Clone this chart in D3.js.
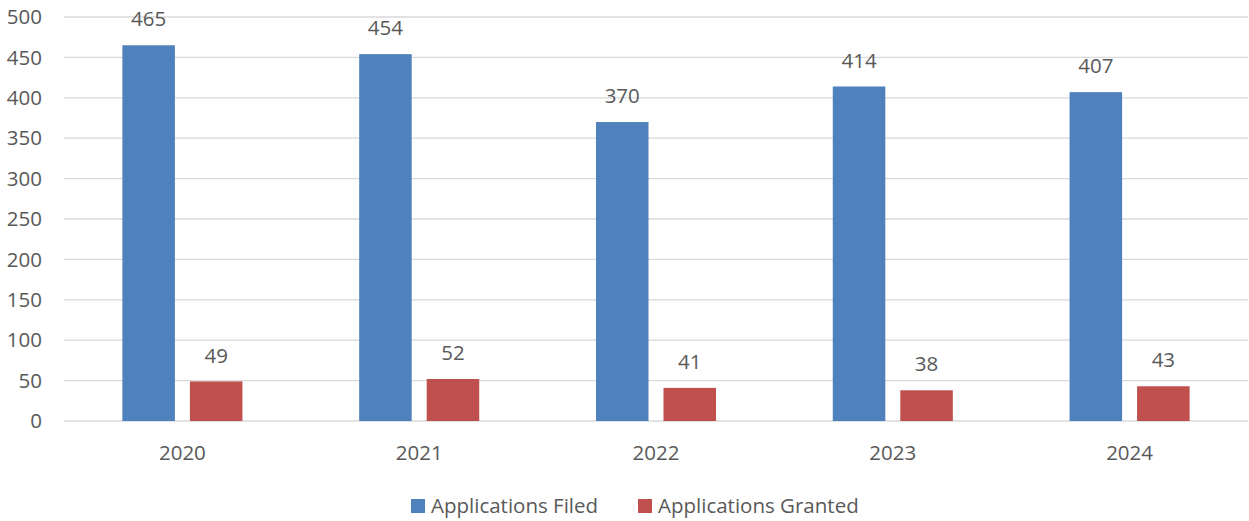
<!DOCTYPE html>
<html><head><meta charset="utf-8">
<script src="https://cdn.jsdelivr.net/npm/d3@7"></script>
<style>body{margin:0;background:#fff;} text{font-family:"Open Sans","Noto Sans",sans-serif;fill:#595959;}</style>
</head><body>
<svg id="chart" width="1249" height="521"></svg>
<script>
const categories = ["2020","2021","2022","2023","2024"];
const seriesNames = ["Applications Filed","Applications Granted"];
const filed = [465,454,370,414,407];
const granted = [49,52,41,38,43];
const yTicks = [0,50,100,150,200,250,300,350,400,450,500];
const colors = ["#4F81BD","#C0504D"];

const svg = d3.select("#chart");
const plotLeft = 64, plotRight = 1248, plotTop = 17, plotBottom = 421;
const fs = 20.5;
const x = d3.scaleBand().domain(categories).range([plotLeft, plotRight]).paddingInner(0.493).paddingOuter(0.2465);
const xs = d3.scaleBand().domain(seriesNames).range([0, x.bandwidth()]).paddingInner(0.222);
const y = d3.scaleLinear().domain([0,500]).range([plotBottom, plotTop]);

svg.append("g").selectAll("line").data(yTicks).join("line")
  .attr("x1", plotLeft).attr("x2", plotRight).attr("y1", d=>y(d)).attr("y2", d=>y(d))
  .attr("stroke", "#d9d9d9").attr("stroke-width", 1.3);

svg.append("g").selectAll("text").data(yTicks).join("text")
  .attr("x", 42).attr("y", d=>y(d)).attr("dy","0.35em").attr("text-anchor","end")
  .attr("font-size", fs).text(d=>d);

const data = categories.map((c,i)=>({c, vals:[filed[i], granted[i]]}));
const g = svg.append("g").selectAll("g").data(data).join("g")
  .attr("transform", d=>`translate(${x(d.c)},0)`);
g.selectAll("rect").data(d=>d.vals.map((v,j)=>({v, s:seriesNames[j], j}))).join("rect")
  .attr("x", d=>xs(d.s)).attr("width", xs.bandwidth())
  .attr("y", d=>y(d.v)).attr("height", d=>y(0)-y(d.v))
  .attr("fill", d=>colors[d.j]);
g.selectAll("text").data(d=>d.vals.map((v,j)=>({v, s:seriesNames[j], j}))).join("text")
  .attr("x", d=>xs(d.s)+xs.bandwidth()/2).attr("y", d=>y(d.v)-26).attr("dy","0.35em")
  .attr("text-anchor","middle").attr("font-size", fs).text(d=>d.v);

svg.append("g").selectAll("text").data(categories).join("text")
  .attr("x", d=>x(d)+x.bandwidth()/2).attr("y", 453).attr("dy","0.35em")
  .attr("text-anchor","middle").attr("font-size", fs).text(d=>d);

const legX = [411, 638];
const leg = svg.append("g").selectAll("g").data(seriesNames).join("g")
  .attr("transform", (d,i)=>`translate(${legX[i]},499)`);
leg.append("rect").attr("width",14).attr("height",14).attr("fill",(d,i)=>colors[i]);
leg.append("text").attr("x",20).attr("y",7).attr("dy","0.35em").attr("font-size",fs).text(d=>d);
</script>
</body></html>
